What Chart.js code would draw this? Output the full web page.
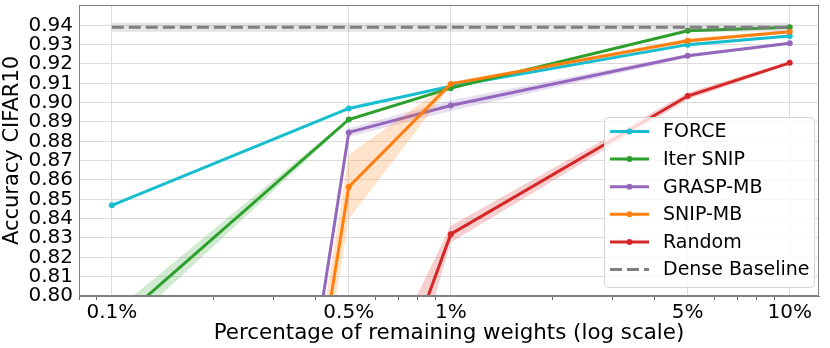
<!DOCTYPE html>
<html>
<head>
<meta charset="utf-8">
<script src="https://cdn.jsdelivr.net/npm/chart.js@4.4.1/dist/chart.umd.min.js"></script>
<style>
  html, body { margin: 0; padding: 0; background: #fff; }
</style>
</head>
<body>
<canvas id="myChart" width="830" height="348"></canvas>
<script>
// percentages of remaining weights (x positions)
const xValues = [0.1, 0.5, 1, 5, 10];
const xTickValues = [0.1, 0.5, 1, 5, 10];
const xTickLabels = ['0.1%', '0.5%', '1%', '5%', '10%'];
const xMinorTicks = [0.08, 0.09, 0.2, 0.3, 0.4, 0.6, 0.7, 0.8, 0.9, 2, 3, 4, 6, 7, 8, 9];
const yTickValues = [0.80, 0.81, 0.82, 0.83, 0.84, 0.85, 0.86, 0.87, 0.88, 0.89, 0.90, 0.91, 0.92, 0.93, 0.94];
const yTickLabels = ['0.80', '0.81', '0.82', '0.83', '0.84', '0.85', '0.86', '0.87', '0.88', '0.89', '0.90', '0.91', '0.92', '0.93', '0.94'];

const seriesNames = ['FORCE', 'Iter SNIP', 'GRASP-MB', 'SNIP-MB', 'Random'];
const seriesColors = ['#17becf', '#2ca02c', '#9467bd', '#ff7f0e', '#d62728'];

// mean accuracy
const force = [0.8469, 0.897, 0.9085, 0.930, 0.9345];
const iterSnip = [0.784, 0.8913, 0.9075, 0.9372, 0.939];
const graspMb = [0.10, 0.8846, 0.8985, 0.9242, 0.9307];
const snipMb = [0.10, 0.8564, 0.9097, 0.932, 0.9367];
const random = [0.10, 0.688, 0.832, 0.9034, 0.9206];
// std (shaded band)
const forceStd = [0.0006, 0.0008, 0.0005, 0.0008, 0.0006];
const iterSnipStd = [0.007, 0.0008, 0.0006, 0.0008, 0.0008];
const graspMbStd = [0.0, 0.0022, 0.0028, 0.001, 0.0006];
const snipMbStd = [0.0, 0.0166, 0.001, 0.0012, 0.0008];
const randomStd = [0.0, 0.04, 0.0043, 0.0018, 0.0008];

const denseName = 'Dense Baseline';
const denseColor = '#7f7f7f';
const denseBaseline = 0.939;
const denseStd = 0.0023;

const means = [force, iterSnip, graspMb, snipMb, random];
const stds = [forceStd, iterSnipStd, graspMbStd, snipMbStd, randomStd];

const hexToRgba = (hex, a) => {
  const n = parseInt(hex.slice(1), 16);
  return `rgba(${(n >> 16) & 255},${(n >> 8) & 255},${n & 255},${a})`;
}

const pts = (ys) => xValues.map((x, i) => ({ x: x, y: ys[i] }));

let datasets = [];
const addSeries = (name, color, ys, sd, dash, withPoints, bandAlpha) => {
  datasets.push({
    label: name + ' low', isBand: true,
    data: pts(ys.map((v, i) => v - sd[i])),
    borderWidth: 0, pointRadius: 0, fill: false, borderColor: 'transparent'
  });
  datasets.push({
    label: name + ' high', isBand: true,
    data: pts(ys.map((v, i) => v + sd[i])),
    borderWidth: 0, pointRadius: 0, borderColor: 'transparent',
    fill: '-1', backgroundColor: hexToRgba(color, bandAlpha)
  });
  datasets.push({
    label: name,
    data: pts(ys),
    borderColor: color,
    backgroundColor: color,
    borderWidth: 3,
    borderDash: dash,
    pointRadius: withPoints ? 3 : 0,
    pointBorderWidth: 0,
    pointBackgroundColor: color,
    fill: false,
    tension: 0
  });
}

seriesNames.forEach((name, i) => addSeries(name, seriesColors[i], means[i], stds[i], [], true, 0.22));
addSeries(denseName, denseColor, xValues.map(() => denseBaseline), xValues.map(() => denseStd), [12, 5], false, 0.2);

// later datasets drawn on top (like matplotlib)
datasets.forEach((d, k) => { d.order = 100 - k; });

const framePlugin = {
  id: 'frame',
  afterDatasetsDraw(chart) {
    const { ctx, chartArea: a } = chart;
    ctx.save();
    ctx.strokeStyle = '#808080';
    ctx.lineWidth = 1;
    ctx.strokeRect(Math.round(a.left) + 0.5, Math.round(a.top) + 0.5, Math.round(a.right - a.left) - 1, Math.round(a.bottom - a.top) - 1);
    ctx.restore();
  }
}

const legendPlugin = {
  id: 'boxLegend',
  afterDraw(chart) {
    const ctx = chart.ctx;
    const items = chart.data.datasets.filter(d => !d.isBand);
    const x0 = 604, y0 = 117, w = 210, h = 170, r = 4;
    ctx.save();
    ctx.beginPath();
    ctx.roundRect(x0 + 0.5, y0 + 0.5, w, h, r);
    ctx.fillStyle = 'rgba(255,255,255,0.8)';
    ctx.fill();
    ctx.strokeStyle = '#d4d4d4';
    ctx.lineWidth = 1;
    ctx.stroke();
    ctx.font = '19px "DejaVu Sans"';
    ctx.textBaseline = 'middle';
    ctx.fillStyle = '#000';
    items.forEach((d, i) => {
      const y = 131.5 + i * 27.6;
      ctx.strokeStyle = d.borderColor;
      ctx.lineWidth = 3;
      ctx.setLineDash(d.borderDash || []);
      ctx.beginPath();
      ctx.moveTo(610, y);
      ctx.lineTo(649, y);
      ctx.stroke();
      ctx.setLineDash([]);
      if (d.pointRadius > 0) {
        ctx.beginPath();
        ctx.arc(629.5, y, 3, 0, Math.PI * 2);
        ctx.fillStyle = d.borderColor;
        ctx.fill();
      }
      ctx.fillStyle = '#000';
      ctx.fillText(d.label, 663, y + 1);
    });
    ctx.restore();
  }
}

Chart.defaults.font.family = '"DejaVu Sans"';
Chart.defaults.color = '#000';

const ctx = document.getElementById('myChart');
new Chart(ctx, {
  type: 'line',
  data: { datasets: datasets },
  plugins: [framePlugin, legendPlugin],
  options: {
    responsive: false,
    animation: false,
    layout: { padding: { left: 0, top: 5, right: 11, bottom: 0 } },
    plugins: {
      legend: { display: false },
      tooltip: { enabled: false }
    },
    scales: {
      x: {
        type: 'logarithmic',
        min: 0.08,
        max: 12.2,
        afterBuildTicks: (scale) => {
          scale.ticks = xTickValues.concat(xMinorTicks).sort((a, b) => a - b).map(v => ({ value: v }));
          scale.min = 0.08;
          scale.max = 12.2;
        },
        afterFit: (scale) => {
          scale.height = 52;
          scale.paddingLeft = 0;
          scale.paddingRight = 0;
        },
        ticks: {
          autoSkip: false,
          maxRotation: 0,
          padding: 1,
          font: { size: 20 },
          callback: (value) => {
            const i = xTickValues.indexOf(value);
            return i >= 0 ? xTickLabels[i] : '';
          }
        },
        grid: {
          color: (c) => (c.tick && xTickValues.includes(c.tick.value)) ? '#dcdcdc' : 'transparent',
          tickColor: (c) => (c.tick && xTickValues.includes(c.tick.value)) ? 'transparent' : '#666',
          tickLength: 4,
          lineWidth: 1
        },
        border: { color: '#808080' },
        title: {
          display: true,
          text: 'Percentage of remaining weights (log scale)',
          font: { size: 21.4 },
          padding: { top: 0, bottom: 2 }
        }
      },
      y: {
        min: 0.80,
        max: 0.9505,
        bounds: 'data',
        afterBuildTicks: (scale) => {
          scale.ticks = yTickValues.map(v => ({ value: v }));
          scale.min = 0.80;
          scale.max = 0.9505;
        },
        afterFit: (scale) => {
          scale.width = 79;
          scale.paddingTop = 0;
          scale.paddingBottom = 0;
        },
        ticks: {
          autoSkip: false,
          padding: 6,
          font: { size: 20 },
          callback: (value, index) => yTickLabels[index]
        },
        grid: { color: '#dcdcdc', drawTicks: false, lineWidth: 1 },
        border: { color: '#808080' },
        title: {
          display: true,
          text: 'Accuracy CIFAR10',
          font: { size: 21 },
          padding: { top: 0, bottom: 0 }
        }
      }
    }
  }
});
</script>
</body>
</html>
